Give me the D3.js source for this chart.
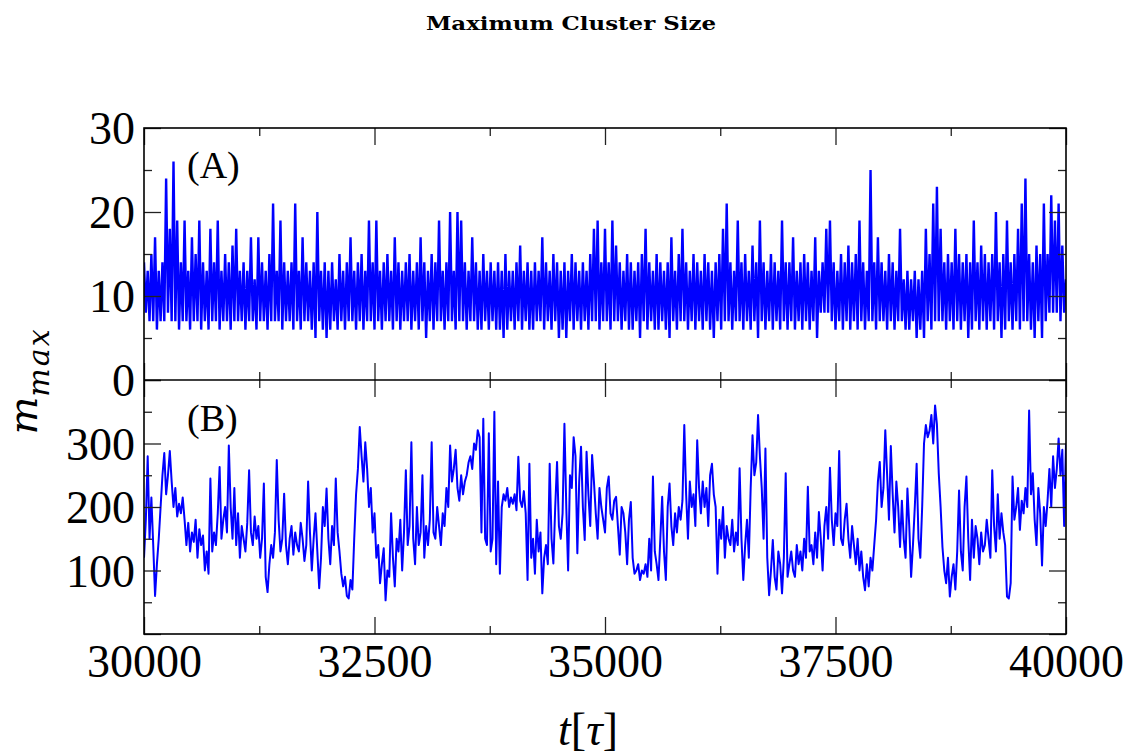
<!DOCTYPE html>
<html>
<head>
<meta charset="utf-8">
<script src="https://cdn.jsdelivr.net/npm/d3@7"></script>
<style>
  body { margin: 0; background: #fff; }
  .tick text { font-family: "Liberation Serif", "Times New Roman", serif; fill: #000; }
</style>
</head>
<body>
<script>
//figure size
var w = 1130, h = 756;

//sampling of the two series (tau units between stored values)
var tStart = 30000, tEnd = 40000;
var topStep = 20, botStep = 20;

//panel A: max cluster size (hi / lo alternating)
var topValues = [
  14,8,13,7,15,7,17,6,13,7,14,7,24,8,18,7,26,7,19,6,14,7,19,7,13,6,17,7,15,7,19,6,14,7,13,6,18,7,14,7,19,6,13,7,15,7,14,6,16,7,
  18,7,13,7,14,6,13,7,17,7,12,6,17,7,14,7,13,6,15,7,21,7,13,7,19,6,14,7,13,7,14,6,21,7,13,6,17,7,14,7,13,6,14,5,20,7,13,6,14,5,
  13,6,14,7,12,6,15,7,13,6,14,7,17,7,13,6,14,7,15,6,13,7,19,7,14,6,19,7,13,6,14,7,15,7,13,6,17,7,14,6,13,7,14,7,15,6,13,7,14,6,
  17,7,14,5,13,7,15,6,14,7,19,7,13,6,14,7,20,7,13,6,20,7,19,7,14,6,13,7,17,7,14,6,13,6,15,7,13,6,14,7,13,6,14,6,13,5,15,6,13,7,
  13,6,14,7,16,6,13,7,14,6,13,6,14,7,13,7,17,6,14,7,13,6,15,7,14,5,13,6,14,5,13,7,15,6,14,7,13,6,14,7,13,6,15,7,18,7,19,6,14,7,
  18,7,14,6,19,7,16,7,14,6,13,7,15,6,14,6,13,7,14,5,15,7,18,6,14,7,13,6,15,6,14,7,13,6,14,5,17,7,13,6,15,7,18,7,14,6,13,7,15,6,
  14,7,13,6,15,7,14,6,13,5,14,7,15,6,18,7,21,7,14,6,13,7,19,7,14,6,15,7,13,6,16,7,14,5,19,7,14,6,13,7,15,6,14,7,13,6,19,7,14,6,
  14,7,17,6,13,7,14,6,15,7,14,6,13,7,17,5,13,8,14,8,18,8,19,7,14,6,13,7,15,6,14,7,16,6,14,7,15,6,19,7,14,6,13,7,25,7,14,6,17,7,
  14,7,13,6,15,7,14,6,13,7,18,7,12,6,13,6,12,7,13,5,12,6,13,5,18,7,15,6,21,7,23,7,18,7,14,6,15,7,14,6,18,7,15,6,14,7,15,5,14,6,
  19,7,14,6,16,7,15,6,14,7,15,6,20,7,14,5,15,6,19,7,14,6,15,7,18,6,21,7,24,7,15,6,14,5,16,7,15,5,21,7,15,8,22,8,19,8,21,7,16,8,
  12
];

//panel B: max cluster size of the second system
var botValues = [
  120,180,280,150,215,140,60,110,150,200,250,285,220,250,288,240,200,230,185,205,190,215,180,140,175,130,160,145,180,120,165,140,155,100,130,95,245,130,160,140,190,263,150,180,200,160,297,200,150,230,
  140,190,120,170,150,130,175,258,160,140,185,150,170,120,150,237,90,66,110,140,120,160,274,180,130,150,221,140,110,150,170,125,160,140,130,175,150,115,140,240,160,100,150,190,130,72,120,200,170,229,
  150,110,170,140,245,160,130,95,75,90,60,56,85,70,150,220,260,326,280,240,302,260,200,230,160,190,120,140,80,110,135,53,100,90,190,120,75,150,130,180,100,160,258,140,170,302,150,110,200,140,
  160,250,120,170,140,180,302,160,150,200,170,140,190,170,230,200,297,240,260,290,230,210,250,220,240,250,270,280,260,300,290,321,310,160,339,150,140,316,130,150,350,110,240,95,200,220,210,230,200,215,
  205,220,195,279,210,200,225,190,85,268,120,150,95,180,130,160,64,120,140,110,268,150,111,200,271,170,150,190,331,200,100,250,230,310,280,127,240,295,200,148,287,220,170,282,240,190,150,230,200,180,
  160,230,248,190,180,210,216,170,125,200,190,160,110,180,208,120,95,100,110,85,100,95,110,90,150,100,248,130,110,85,150,216,130,85,200,237,170,140,190,160,200,180,210,329,220,150,240,200,220,170,
  305,230,190,240,200,230,170,250,268,220,200,95,180,150,200,120,170,150,140,180,130,160,140,261,150,85,140,180,120,230,313,250,270,345,280,230,150,292,120,61,100,148,90,70,130,110,64,120,253,90,
  110,130,100,90,140,110,130,100,150,120,232,130,140,110,160,120,192,150,100,170,200,150,262,180,140,190,170,288,150,140,180,205,150,120,170,140,110,150,100,130,90,69,110,75,120,100,140,179,240,271,
  200,230,321,250,180,296,220,160,240,200,137,210,150,120,229,170,90,140,200,268,150,120,200,300,329,310,320,345,300,360,330,253,200,137,100,80,120,59,90,110,70,130,226,130,100,200,248,150,85,180,
  120,170,150,110,160,130,140,180,150,120,258,170,130,220,150,190,160,140,59,56,80,248,180,200,230,164,210,190,230,200,352,220,253,180,140,230,190,108,200,170,210,260,200,280,230,260,308,250,290,170,
  300
];

//axis ticks
var xMajor = [30000, 32500, 35000, 37500, 40000];
var xMinor = [31250, 33750, 36250, 38750];
var topMajor = [0, 10, 20, 30], topMinor = [5, 15, 25];
var botMajor = [0, 100, 200, 300, 400], botMinor = [50, 150, 250, 350];
var topLabels = [0, 10, 20, 30], botLabels = [100, 200, 300];

//plot frame
var left = 144, right = 1066, top1 = 128, mid = 380, bot2 = 634;
var serif = '"Liberation Serif", "Times New Roman", serif';

window.onload = function(){

    var svg = d3.select("body").append("svg")
        .attr("width", w)
        .attr("height", h);

    var x = d3.scaleLinear().domain([tStart, tEnd]).range([left, right]);
    var yTop = d3.scaleLinear().domain([0, 30]).range([mid, top1]);
    var yBot = d3.scaleLinear().domain([0, 400]).range([bot2, mid]);

    //clip paths for the two panels
    var defs = svg.append("defs");
    defs.append("clipPath").attr("id", "clipA").append("rect")
        .attr("x", left).attr("y", top1).attr("width", right - left).attr("height", mid - top1);
    defs.append("clipPath").attr("id", "clipB").append("rect")
        .attr("x", left).attr("y", mid).attr("width", right - left).attr("height", bot2 - mid);

    //the two series
    var lineTop = d3.line()
        .x(function(d, i){ return x(tStart + i * topStep); })
        .y(function(d){ return yTop(d); });
    var lineBot = d3.line()
        .x(function(d, i){ return x(tStart + i * botStep); })
        .y(function(d){ return yBot(d); });

    svg.append("path")
        .datum(topValues)
        .attr("clip-path", "url(#clipA)")
        .attr("d", lineTop)
        .style("fill", "none")
        .style("stroke", "#0000ff")
        .style("stroke-width", 2.4);

    svg.append("path")
        .datum(botValues)
        .attr("clip-path", "url(#clipB)")
        .attr("d", lineBot)
        .style("fill", "none")
        .style("stroke", "#0000ff")
        .style("stroke-width", 2)
        .style("stroke-linejoin", "round");

    //ticks, all pointing inwards, major longer than minor
    function ticks(axis, vals, size, tr){
        var g = svg.append("g")
            .attr("transform", tr)
            .call(axis.tickValues(vals).tickSize(-size).tickFormat(""));
        g.select(".domain").remove();
        g.selectAll(".tick line").style("stroke", "#222").style("stroke-width", 1.3);
        return g;
    }
    [[mid, top1], [bot2, mid]].forEach(function(p){
        ticks(d3.axisBottom(x), xMajor, 17, "translate(0," + p[0] + ")");
        ticks(d3.axisBottom(x), xMinor, 8, "translate(0," + p[0] + ")");
        ticks(d3.axisTop(x), xMajor, 17, "translate(0," + p[1] + ")");
        ticks(d3.axisTop(x), xMinor, 8, "translate(0," + p[1] + ")");
    });
    ticks(d3.axisLeft(yTop), topMajor, 17, "translate(" + left + ",0)");
    ticks(d3.axisLeft(yTop), topMinor, 8, "translate(" + left + ",0)");
    ticks(d3.axisRight(yTop), topMajor, 17, "translate(" + right + ",0)");
    ticks(d3.axisRight(yTop), topMinor, 8, "translate(" + right + ",0)");
    ticks(d3.axisLeft(yBot), botMajor, 17, "translate(" + left + ",0)");
    ticks(d3.axisLeft(yBot), botMinor, 8, "translate(" + left + ",0)");
    ticks(d3.axisRight(yBot), botMajor, 17, "translate(" + right + ",0)");
    ticks(d3.axisRight(yBot), botMinor, 8, "translate(" + right + ",0)");

    //tick labels
    var xLab = svg.append("g")
        .attr("transform", "translate(0," + bot2 + ")")
        .call(d3.axisBottom(x).tickValues(xMajor).tickSize(0).tickPadding(10).tickFormat(d3.format("d")));
    xLab.select(".domain").remove();
    xLab.selectAll("text").style("font-size", "46px");

    var yLabA = svg.append("g")
        .attr("transform", "translate(" + left + ",0)")
        .call(d3.axisLeft(yTop).tickValues(topLabels).tickSize(0).tickPadding(9));
    var yLabB = svg.append("g")
        .attr("transform", "translate(" + left + ",0)")
        .call(d3.axisLeft(yBot).tickValues(botLabels).tickSize(0).tickPadding(9));
    [yLabA, yLabB].forEach(function(g){
        g.select(".domain").remove();
        g.selectAll("text").style("font-size", "46px").attr("dy", "0.34em");
    });

    //panel frames
    svg.append("rect")
        .attr("x", left).attr("y", top1).attr("width", right - left).attr("height", bot2 - top1)
        .style("fill", "none").style("stroke", "#000").style("stroke-width", 1.6);
    svg.append("line")
        .attr("x1", left).attr("x2", right).attr("y1", mid).attr("y2", mid)
        .style("stroke", "#000").style("stroke-width", 1.6);

    //panel letters
    svg.append("text").attr("x", 187).attr("y", 178).text("(A)")
        .style("font-family", serif).style("font-size", "38px");
    svg.append("text").attr("x", 187).attr("y", 431).text("(B)")
        .style("font-family", serif).style("font-size", "38px");

    //title
    svg.append("text")
        .attr("x", 571).attr("y", 30)
        .attr("text-anchor", "middle")
        .attr("textLength", 290).attr("lengthAdjust", "spacingAndGlyphs")
        .text("Maximum Cluster Size")
        .style("font-family", '"DejaVu Serif", serif').style("font-weight", "bold").style("font-size", "19px");

    //axis titles
    var yt = svg.append("text")
        .attr("transform", "translate(37,381) rotate(-90)")
        .attr("text-anchor", "middle")
        .style("font-family", '"DejaVu Serif", serif').style("font-style", "italic");
    yt.append("tspan").text("m").style("font-size", "40px");
    yt.append("tspan").text("max").attr("dy", 12).style("font-size", "30px").style("letter-spacing", "2px");

    var xt = svg.append("text")
        .attr("x", 588).attr("y", 745)
        .attr("text-anchor", "middle")
        .style("font-family", serif).style("font-size", "46px");
    xt.append("tspan").text("t").style("font-style", "italic");
    xt.append("tspan").text("[");
    xt.append("tspan").text("τ").style("font-style", "italic");
    xt.append("tspan").text("]");
};
</script>
</body>
</html>
